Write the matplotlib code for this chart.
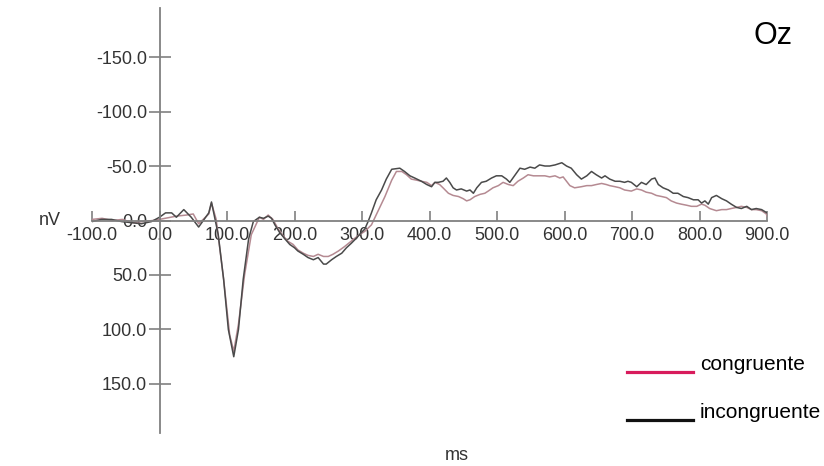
import matplotlib
matplotlib.use('Agg')
import matplotlib.pyplot as plt
from matplotlib.lines import Line2D
from matplotlib.ticker import FuncFormatter

plt.rcParams['font.family'] = ['Liberation Sans', 'DejaVu Sans']

# valori (ms, nV; negativo in alto)
t_incong = [-100, -86, -71, -56, -41, -27, -12, 0, 9, 18, 25, 36, 47, 58, 73, 77, 81, 87,
            95, 102, 110, 117, 124, 132, 139, 148, 154, 161, 166, 171, 178, 186, 193,
            200, 205, 213, 220, 228, 235, 243, 247, 255, 262, 270, 277, 284, 292, 299,
            304, 309, 314, 321, 329, 336, 344, 356, 363, 371, 378, 388, 396, 403, 408,
            413, 420, 425, 430, 435, 440, 447, 455, 460, 465, 470, 477, 484, 492, 499,
            507, 514, 519, 526, 534, 541, 549, 556, 563, 571, 578, 586, 596, 603, 610,
            618, 625, 633, 640, 647, 655, 660, 667, 675, 682, 689, 694, 699, 707, 714,
            721, 729, 734, 739, 746, 754, 761, 768, 776, 783, 791, 798, 803, 808, 813,
            818, 825, 833, 840, 847, 855, 862, 870, 877, 884, 892, 900]
v_incong = [1, -1, -1, 1, 2, 3, 1, -3, -7, -7, -3, -10, -3, 6, -7, -17, -5, 13,
            54, 100, 125, 100, 54, 17, 1, -3, -2, -4, -2, 4, 11, 17, 22,
            25, 28, 31, 34, 36, 34, 40, 40, 36, 33, 30, 25, 21, 16, 11,
            8, 1, -7, -19, -28, -38, -47, -48, -45, -41, -39, -36, -33, -31, -35,
            -35, -36, -39, -35, -30, -28, -29, -27, -28, -25, -30, -35, -36, -39, -41,
            -41, -38, -35, -41, -48, -47, -49, -48, -51, -50, -50, -51, -53, -50, -48,
            -42, -38, -41, -45, -42, -39, -41, -38, -36, -36, -35, -36, -35, -31, -35,
            -33, -38, -39, -33, -30, -28, -25, -25, -22, -21, -19, -19, -16, -18, -15,
            -21, -23, -20, -18, -15, -12, -11, -13, -10, -11, -10, -7]

t_cong = [-100, -85, -70, -55, -40, -25, -10, 0, 25, 40, 50, 58, 73, 77, 84, 95, 104,
          110, 117, 126, 136, 148, 154, 161, 168, 176, 183, 190, 198, 205, 213, 220,
          228, 235, 243, 250, 257, 265, 274, 284, 294, 304, 314, 324, 334, 344, 351,
          359, 366, 373, 381, 388, 396, 403, 408, 415, 420, 428, 435, 443, 450, 455,
          460, 467, 475, 482, 487, 494, 502, 509, 517, 524, 531, 539, 546, 554, 561,
          571, 578, 586, 593, 598, 603, 608, 615, 625, 633, 640, 647, 655, 662, 667,
          675, 682, 689, 699, 707, 714, 721, 729, 736, 744, 751, 758, 766, 773, 781,
          788, 796, 803, 808, 815, 825, 833, 840, 847, 855, 862, 870, 877, 884, 892,
          899, 900]
v_cong = [-1, -2, 0, -1, 2, 1, 0, -1, -4, -5, -6, 3, -6, -16, -1, 54, 105,
          120, 95, 50, 13, -3, -1, -5, -1, 8, 14, 19, 22, 27, 30, 32,
          33, 31, 33, 33, 31, 28, 24, 19, 14, 10, 4, -9, -22, -37, -45,
          -45, -42, -38, -37, -36, -35, -32, -35, -33, -30, -25, -23, -22, -20, -18,
          -19, -22, -24, -25, -27, -30, -32, -35, -33, -32, -36, -39, -42, -41, -41,
          -41, -40, -41, -39, -40, -36, -32, -30, -31, -32, -32, -33, -34, -33, -32,
          -31, -30, -28, -27, -29, -28, -26, -25, -23, -22, -21, -18, -16, -15, -14,
          -13, -13, -15, -14, -11, -9, -10, -10, -11, -12, -13, -12, -10, -10, -9,
          -6, -4]

xticks = [-100, 0, 100, 200, 300, 400, 500, 600, 700, 800, 900]
yticks = [-150, -100, -50, 0, 50, 100, 150]

fig = plt.figure(figsize=(8.24, 4.66), dpi=100)
ax = fig.add_axes([92 / 824, 33 / 466, 675 / 824, 425 / 466])

ax.plot(t_cong, v_cong, color='#b58a92', lw=1.1)
ax.plot(t_incong, v_incong, color='#4a4a4a', lw=1.1)

ax.set_xlim(-100, 900)
ax.set_ylim(195, -195)

for s in ['top', 'right']:
    ax.spines[s].set_visible(False)
ax.spines['left'].set_position(('data', 0))
ax.spines['bottom'].set_position(('data', 0))
for s in ['left', 'bottom']:
    ax.spines[s].set_color('#808080')
    ax.spines[s].set_linewidth(1.3)

fmt = FuncFormatter(lambda v, p: f"{abs(v):.1f}" if v == 0 else f"{v:.1f}")
ax.set_xticks(xticks)
ax.set_yticks(yticks)
ax.xaxis.set_major_formatter(fmt)
ax.yaxis.set_major_formatter(fmt)
ax.tick_params(axis='x', direction='in', length=7.5, width=1.2, color='#808080',
               labelsize=13, pad=5, labelcolor='#333333')
ax.tick_params(axis='y', direction='inout', length=16, width=1.2, color='#808080',
               labelsize=13, pad=1, labelcolor='#333333')

fig.text(50 / 824, 1 - 221 / 466, 'nV', fontsize=13, ha='center', va='center', color='#333333')
fig.text(457 / 824, 1 - 456 / 466, 'ms', fontsize=13, ha='center', va='center', color='#333333')
fig.text(773 / 824, 1 - 36 / 466, 'Oz', fontsize=22, ha='center', va='center')

# legenda
labels = ['congruente', 'incongruente']
lcolors = ['#d81b5c', '#111111']
for i, (lab, c) in enumerate(zip(labels, lcolors)):
    yl = 372 + i * 48
    fig.add_artist(Line2D([627 / 824, 693 / 824], [1 - yl / 466, 1 - yl / 466],
                          color=c, lw=2.3))
    fig.text(700 / 824, 1 - (yl - 8) / 466, lab, fontsize=15, ha='left', va='center')

fig.savefig('out.png', dpi=100)
